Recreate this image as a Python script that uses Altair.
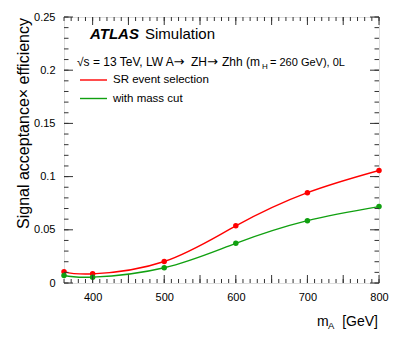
import altair as alt
import pandas as pd

# ---- data ----
mass = [360, 400, 500, 600, 700, 800]
sr_selection = [0.0105, 0.0086, 0.0202, 0.0537, 0.0849, 0.1058]
with_mass_cut = [0.0070, 0.0055, 0.0143, 0.0373, 0.0586, 0.0718]
series_names = ["SR event selection", "with mass cut"]
series_colors = ["#ff0000", "#10a010"]

x_major = [400, 450, 500, 550, 600, 650, 700, 750, 800]
x_minor = list(range(360, 801, 10))
y_major = [0, 0.05, 0.1, 0.15, 0.2, 0.25]
y_minor = [round(i * 0.01, 2) for i in range(0, 26)]

W, H = 315, 266
FONT = "Liberation Sans"
FRAME = "#333333"

df = pd.DataFrame({
    "mass": mass * 2,
    "eff": sr_selection + with_mass_cut,
    "series": [series_names[0]] * len(mass) + [series_names[1]] * len(mass),
})

xs = alt.Scale(domain=[360, 800], nice=False, zero=False)
ys = alt.Scale(domain=[0, 0.25], nice=False, zero=False)
cs = alt.Scale(domain=series_names, range=series_colors)

base = alt.Chart(df)
xenc = alt.X("mass:Q", scale=xs,
             axis=alt.Axis(values=x_major, ticks=False, domain=False, grid=False,
                           labelFont=FONT, labelFontSize=11, labelColor="black",
                           labelPadding=8, title=None, labelFlush=False))
yenc = alt.Y("eff:Q", scale=ys,
             axis=alt.Axis(values=y_major, ticks=False, domain=False, grid=False,
                           labelFont=FONT, labelFontSize=11, labelColor="black",
                           labelPadding=9, title=None, format="~g", labelFlush=False))

lines = base.mark_line(interpolate="natural", strokeWidth=1.4, clip=True).encode(
    x=xenc, y=yenc, color=alt.Color("series:N", scale=cs, legend=None))
points = base.mark_circle(size=30, opacity=1).encode(
    x="mass:Q", y="eff:Q", color=alt.Color("series:N", scale=cs, legend=None))

# tick marks drawn inside the frame
def xticks(vals, length):
    d = alt.Chart(pd.DataFrame({"v": vals}))
    bottom = d.mark_rule(color=FRAME, strokeWidth=1).encode(
        x=alt.X("v:Q", scale=xs), y=alt.value(H), y2=alt.value(H - length))
    top = d.mark_rule(color=FRAME, strokeWidth=1).encode(
        x=alt.X("v:Q", scale=xs), y=alt.value(0), y2=alt.value(length))
    return [bottom, top]

def yticks(vals, length):
    d = alt.Chart(pd.DataFrame({"v": vals}))
    left = d.mark_rule(color=FRAME, strokeWidth=1).encode(
        y=alt.Y("v:Q", scale=ys), x=alt.value(0), x2=alt.value(length))
    right = d.mark_rule(color=FRAME, strokeWidth=1).encode(
        y=alt.Y("v:Q", scale=ys), x=alt.value(W), x2=alt.value(W - length))
    return [left, right]

ticks = xticks(x_major, 8) + xticks(x_minor, 4) + yticks(y_major, 9) + yticks(y_minor, 4.5)

def text(t, x, y, size=11, font=FONT, **kw):
    return alt.Chart(pd.DataFrame({"t": [t]})).mark_text(
        font=font, fontSize=size, color="black", clip=False, **kw
    ).encode(x=alt.value(x), y=alt.value(y), text="t:N")

# legend lines
def legline(color, y):
    return alt.Chart(pd.DataFrame({"a": [0]})).mark_rule(color=color, strokeWidth=1.4).encode(
        x=alt.value(16), x2=alt.value(43), y=alt.value(y))

LINE_Y = 48.5
annotations = [
    text("ATLAS", 26, 22, size=15, fontWeight="bold", fontStyle="italic", align="left", baseline="alphabetic"),
    text("Simulation", 81, 22, size=15, align="left", baseline="alphabetic"),
    # energy / process line, split in pieces
    text("\u221As = 13 TeV, LW A", 13, LINE_Y, size=12, align="left", baseline="alphabetic"),
    text("\u2192", 115, LINE_Y, size=13, font="DejaVu Sans", align="center", baseline="alphabetic"),
    text("ZH", 127, LINE_Y, size=12, align="left", baseline="alphabetic"),
    text("\u2192", 148.5, LINE_Y, size=13, font="DejaVu Sans", align="center", baseline="alphabetic"),
    text("Zhh (m", 158, LINE_Y, size=12, align="left", baseline="alphabetic"),
    text("H", 198, LINE_Y + 3, size=8, align="left", baseline="alphabetic"),
    text("= 260 GeV), 0L", 206, LINE_Y, size=11, align="left", baseline="alphabetic"),
    legline(series_colors[0], 63),
    legline(series_colors[1], 81.5),
    text(series_names[0], 49, 63, size=11.5, align="left", baseline="middle"),
    text(series_names[1], 49, 81.5, size=11.5, align="left", baseline="middle"),
    text("m", 253, 309, size=14, align="left", baseline="alphabetic"),
    text("A", 264, 311.5, size=9.5, align="left", baseline="alphabetic"),
    text("[GeV]", 314, 309, size=14, align="right", baseline="alphabetic"),
    text("Signal acceptance\u00d7 efficiency", -40, 1, size=16, angle=270, align="right", baseline="middle"),
]

chart = alt.layer(lines, points, *ticks, *annotations).properties(
    width=W, height=H,
    autosize=alt.AutoSizeParams(type="none"),
    padding={"left": 56, "top": 9, "right": 12, "bottom": 47},
).configure_view(stroke=FRAME, strokeWidth=1).configure(background="white")

chart.save("out.html", embed_options={"renderer": "svg", "actions": False})
